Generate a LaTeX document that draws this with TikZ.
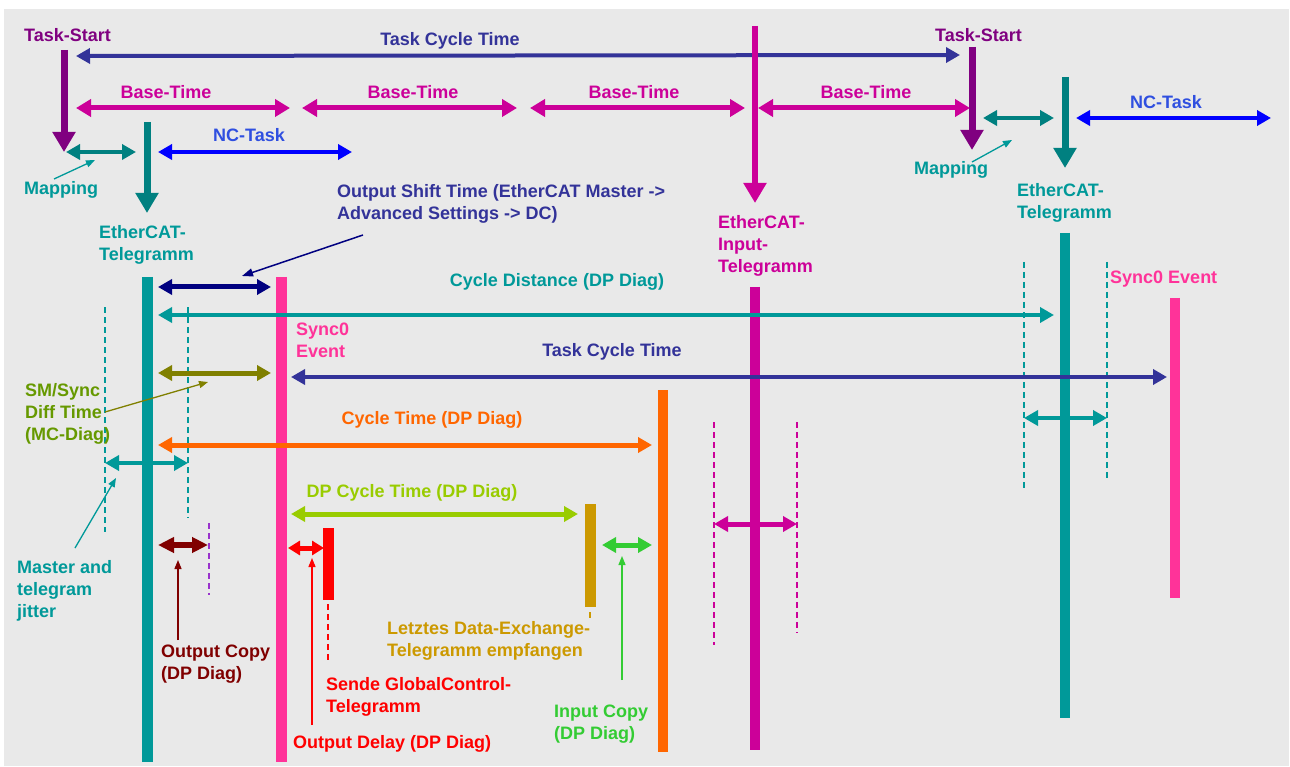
\documentclass[tikz,border=0pt]{standalone}
\usepackage{fontspec}
\setmainfont{Liberation Sans}
\usetikzlibrary{arrows.meta}
\definecolor{cbg}{HTML}{E9E9E9}
\definecolor{cpurple}{HTML}{800080}
\definecolor{cnavy}{HTML}{333399}
\definecolor{cdnavy}{HTML}{000080}
\definecolor{cmag}{HTML}{CC0099}
\definecolor{cteal}{HTML}{009999}
\definecolor{cdteal}{HTML}{008080}
\definecolor{cblue}{HTML}{0000FF}
\definecolor{cbluetxt}{HTML}{2F4FE0}
\definecolor{cpink}{HTML}{FF3399}
\definecolor{colive}{HTML}{808000}
\definecolor{colivetxt}{HTML}{669900}
\definecolor{corange}{HTML}{FF6600}
\definecolor{clime}{HTML}{99CC00}
\definecolor{cgold}{HTML}{CC9900}
\definecolor{cgreen}{HTML}{33CC33}
\definecolor{cred}{HTML}{FF0000}
\definecolor{cdred}{HTML}{800000}
\definecolor{cviolet}{HTML}{9933CC}
\tikzset{
  every picture/.style={font=\bfseries\fontsize{18}{22}\selectfont},
  lbl/.style={text=#1, inner sep=0pt, anchor=north west, align=left},
  clbl/.style={text=#1, inner sep=0pt, anchor=north, align=center},
  dbl/.style={draw=#1, {Triangle[length=14pt,width=15pt]}-{Triangle[length=14pt,width=15pt]}, line width=4.5pt},
  sgl/.style={draw=#1, -{Triangle[length=14pt,width=15pt]}, line width=4.5pt},
  down/.style={draw=#1, -{Triangle[length=20pt,width=22pt]}, line width=7pt},
  ptr/.style={draw=#1, -{Triangle[length=9pt,width=7pt]}, line width=1.3pt},
  bar/.style={draw=#1, line width=10pt},
  tick/.style={draw=#1, dash pattern=on 6pt off 4pt, line width=1.5pt},
}

\begin{document}
\begin{tikzpicture}[x=1pt, y=-1pt]
  \useasboundingbox (0,0) rectangle (1290,767);
  \fill[white] (0,0) rectangle (1290,767);
  \fill[cbg] (4,9) rectangle (1289,766);

  % task cycle on top
  \node[lbl=cpurple] (tsL) at (24,28) {Task-Start};
  \node[lbl=cpurple] (tsR) at (935,28) {Task-Start};
  \node[clbl=cnavy] (tct) at (450,32) {Task Cycle Time};
  \draw[dbl=cnavy, line width=4pt] (76,56) -- (960,55);
  \draw[down=cpurple] (64,50) -- (64,152);
  \draw[down=cpurple] (972,47) -- (972,150);

  % base time
  \foreach \xa/\xb in {76/290, 302/517, 530/745, 758/970}
    \draw[dbl=cmag, {Triangle[length=15pt,width=17pt]}-{Triangle[length=15pt,width=17pt]}, line width=5pt] (\xa,108) -- (\xb,108);
  \foreach \xc [count=\i] in {166, 413, 634, 866}
    \node[clbl=cmag] (base\i) at (\xc,85) {Base-Time};
  \draw[down=cmag, line width=6pt] (755,26) -- (755,203);
  \node[lbl=cmag] (ecatin) at (718,215) {EtherCAT-\\Input-\\Telegramm};

  % mapping and nc task
  \draw[dbl=cdteal] (66,152) -- (136,152);
  \draw[dbl=cdteal] (983,118) -- (1054,118);
  \draw[down=cdteal] (147,122) -- (147,213);
  \draw[down=cdteal] (1065,77) -- (1065,168);
  \draw[dbl=cblue] (158,152) -- (352,152);
  \draw[dbl=cblue] (1076,118) -- (1271,118);
  \node[clbl=cbluetxt] (nc1) at (249,128) {NC-Task};
  \node[clbl=cbluetxt] (nc2) at (1166,95) {NC-Task};
  \node[lbl=cteal] (map1) at (24,181) {Mapping};
  \node[lbl=cteal] (map2) at (914,161) {Mapping};
  \draw[ptr=cteal] (54,179) -- (95,160);
  \draw[ptr=cteal] (972,162) -- (1012,140);
  \node[lbl=cteal] (ecat1) at (99,225) {EtherCAT-\\Telegramm};
  \node[lbl=cteal] (ecat2) at (1017,183) {EtherCAT-\\Telegramm};
  \node[lbl=cnavy] (outshift) at (337,184) {Output Shift Time (EtherCAT Master ->\\Advanced Settings -> DC)};
  \draw[ptr=cdnavy, line width=1.5pt, -{Triangle[length=11pt,width=8pt]}] (363,235) -- (242,276);

  % bars
  \draw[bar=cteal, line width=11pt] (147,277) -- (147,762);
  \draw[bar=cpink, line width=11pt] (281,277) -- (281,762);
  \draw[bar=corange] (663,390) -- (663,752);
  \draw[bar=cmag] (755,287) -- (755,750);
  \draw[bar=cteal] (1065,233) -- (1065,718);
  \draw[bar=cpink] (1175,298) -- (1175,598);
  \draw[bar=cgold, line width=11pt] (590,504) -- (590,607);
  \draw[bar=cred, line width=11pt] (328,528) -- (328,600);

  % dashed marks
  \draw[tick=cteal] (105,307) -- (105,532);
  \draw[tick=cteal] (188,307) -- (188,518);
  \draw[tick=cteal] (1024,262) -- (1024,488);
  \draw[tick=cteal] (1107,262) -- (1107,481);
  \draw[tick=cmag] (714,422) -- (714,645);
  \draw[tick=cmag] (797,422) -- (797,633);
  \draw[tick=cviolet] (209,523) -- (209,595);
  \draw[tick=cred] (328,604) -- (328,662);
  \draw[tick=cgold] (590,612) -- (590,620);

  % time spans
  \draw[dbl=cdnavy, line width=5pt] (158,287) -- (271,287);
  \draw[dbl=cteal, line width=4pt] (158,315) -- (1054,315);
  \node[clbl=cteal] (cycdist) at (557,273) {Cycle Distance (DP Diag)};
  \node[lbl=cpink] (sync1) at (296,323) {Sync0\\Event};
  \node[lbl=cpink] (sync2) at (1110,271) {Sync0 Event};
  \draw[dbl=colive, line width=5pt] (158,373) -- (271,373);
  \draw[dbl=cnavy, line width=4pt] (291,377) -- (1167,377);
  \node[clbl=cnavy] (tct2) at (612,343) {Task Cycle Time};
  \node[lbl=colivetxt] (smsync) at (25,383) {SM/Sync\\Diff Time\\(MC-Diag)};
  \draw[ptr=colive] (105,412) -- (208,382);
  \draw[dbl=corange, line width=5pt] (158,445) -- (652,445);
  \node[clbl=corange] (cyct) at (432,411) {Cycle Time (DP Diag)};
  \draw[dbl=cteal, line width=4pt] (105,463) -- (188,463);
  \draw[dbl=cteal, line width=4pt] (1024,418) -- (1107,418);
  \node[lbl=cteal] (jitter) at (17,560) {Master and\\telegram\\jitter};
  \draw[ptr=cteal] (75,548) -- (116,478);
  \draw[dbl=clime, line width=5pt] (291,514) -- (578,514);
  \node[clbl=clime] (dpcyc) at (412,484) {DP Cycle Time (DP Diag)};
  \draw[dbl=cmag, line width=5pt] (714,524) -- (797,524);

  % copies and delay
  \draw[dbl=cdred, line width=6pt, {Triangle[length=16pt,width=15pt]}-{Triangle[length=16pt,width=15pt]}] (158,545) -- (208,545);
  \draw[ptr=cdred] (178,640) -- (178,560);
  \node[lbl=cdred] (outcopy) at (161,645) {Output Copy\\(DP Diag)};
  \draw[dbl=cred, line width=5pt, {Triangle[length=12pt,width=14pt]}-{Triangle[length=12pt,width=14pt]}] (288,548) -- (324,548);
  \draw[ptr=cred] (312,725) -- (312,558);
  \node[lbl=cred] (sende) at (326,677) {Sende GlobalControl-\\Telegramm};
  \node[lbl=cred] (outdelay) at (293,735) {Output Delay (DP Diag)};
  \node[lbl=cgold] (letzt) at (387,621) {Letztes Data-Exchange-\\Telegramm empfangen};
  \draw[dbl=cgreen, line width=5pt] (602,545) -- (652,545);
  \draw[ptr=cgreen] (622,680) -- (622,556);
  \node[lbl=cgreen] (incopy) at (554,705) {Input Copy\\(DP Diag)};
\end{tikzpicture}
\end{document}
